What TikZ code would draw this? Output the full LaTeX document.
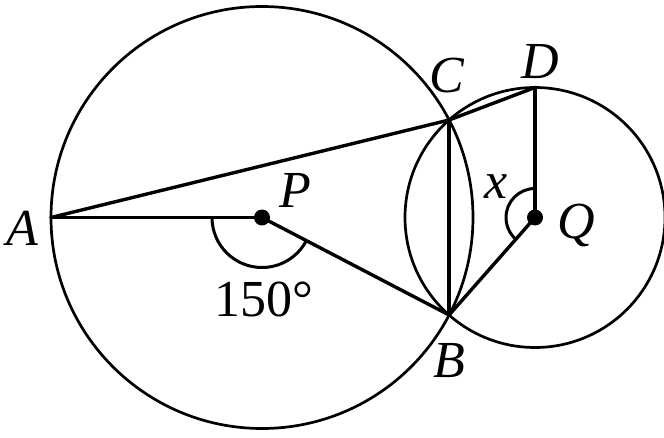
\documentclass[tikz,border=0pt]{standalone}
\usepackage{fontspec}
\setmainfont{Liberation Serif}
\usetikzlibrary{calc}
\begin{document}
\begin{tikzpicture}[x=1pt,y=1pt,
  seg/.style={line width=3.4pt, line cap=round, line join=round},
  circ/.style={line width=2.7pt},
  anglemark/.style={line width=3pt},
  lbl/.style={font=\fontsize{52}{56}\selectfont\itshape, inner sep=0pt},
  num/.style={font=\fontsize{52}{56}\selectfont, inner sep=0pt},
  dot/.style={circle, fill=black, inner sep=0pt, minimum size=16pt}]
\useasboundingbox (0,0) rectangle (664,437);
\coordinate (P) at (262,219.5);
\coordinate (Q) at (535,219.5);
\coordinate (A) at (51,219.5);
\coordinate (C) at (449.1,317);
\coordinate (B) at (449.1,122);
\coordinate (D) at (535,349.5);
% circles
\draw[circ] (P) circle[radius=211];
\draw[circ] (Q) circle[radius=130];
% segments
\draw[seg] (A) -- (C);
\draw[seg] (A) -- (P);
\draw[seg] (P) -- (B);
\draw[seg] (C) -- (B);
\draw[seg] (C) -- (D);
\draw[seg] (D) -- (Q);
\draw[seg] (Q) -- (B);
% angle marks
\draw[anglemark] let \p1=($(B)-(P)$), \n1={360+atan2(\y1,\x1)} in
  ($(P)+(-50,0)$) arc[start angle=180, end angle=\n1, radius=50];
\draw[anglemark] let \p1=($(B)-(Q)$), \n1={360+atan2(\y1,\x1)} in
  ($(Q)+(0,29)$) arc[start angle=90, end angle=\n1, radius=29];
% dots
\node[dot] (Pdot) at (P) {};
\node[dot] (Qdot) at (Q) {};
% labels
\node[lbl] (lA) at (22,209) {A};
\node[lbl] (lP) at (295,247) {P};
\node[num] (l150) at (264,138) {150°};
\node[lbl] (lC) at (447,361) {C};
\node[lbl] (lD) at (540,375) {D};
\node[lbl] (lx) at (496,250) {x};
\node[lbl] (lQ) at (576,211) {Q};
\node[lbl] (lB) at (449,76) {B};
\end{tikzpicture}
\end{document}
